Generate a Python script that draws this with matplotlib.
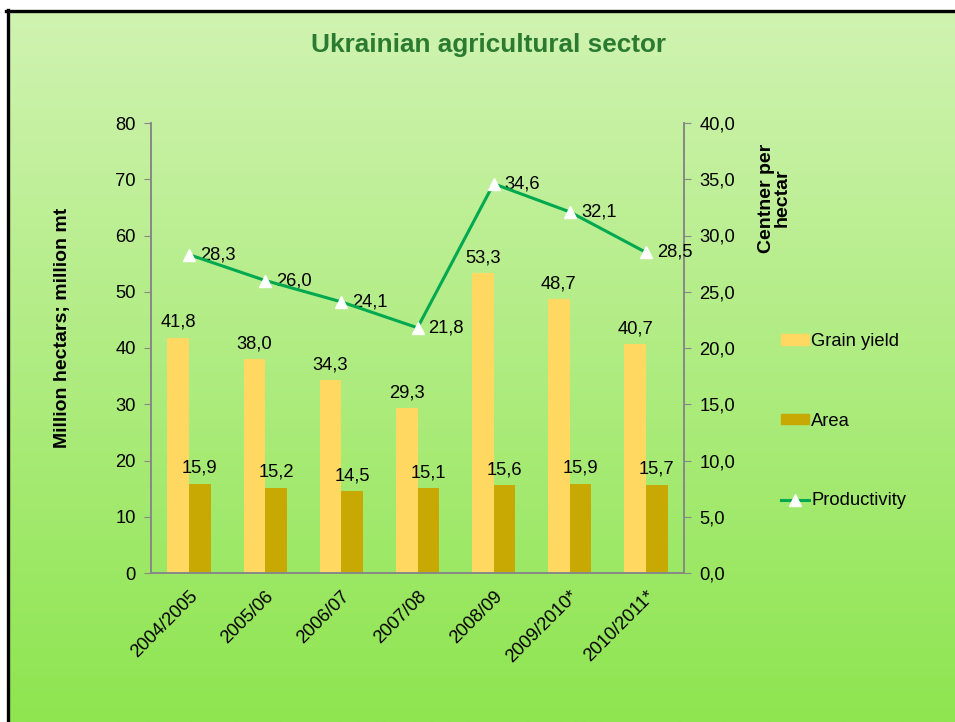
import numpy as np
import matplotlib
matplotlib.use("Agg")
import matplotlib.pyplot as plt
import matplotlib.transforms as mtransforms
from matplotlib.patches import Patch
from matplotlib.lines import Line2D

plt.rcParams['font.family'] = ['Liberation Sans', 'DejaVu Sans']

seasons = ["2004/2005", "2005/06", "2006/07", "2007/08", "2008/09", "2009/2010*", "2010/2011*"]
grain_yield = [41.8, 38.0, 34.3, 29.3, 53.3, 48.7, 40.7]
area = [15.9, 15.2, 14.5, 15.1, 15.6, 15.9, 15.7]
productivity = [28.3, 26.0, 24.1, 21.8, 34.6, 32.1, 28.5]

W, H = 955, 722
fig = plt.figure(figsize=(W / 100, H / 100), dpi=100)
fig.patch.set_facecolor('white')

# gradient background inside the frame
bg = fig.add_axes([9 / W, 0, 1 - 9 / W, 1 - 12 / H], zorder=-5)
top = np.array([0xD0, 0xF3, 0xB1]) / 255
bot = np.array([0x8E, 0xE5, 0x50]) / 255
t = np.linspace(0, 1, 256)[:, None]
grad = (top[None, :] * (1 - t) + bot[None, :] * t)[:, None, :]
bg.imshow(grad, aspect='auto', extent=[0, 1, 0, 1], interpolation='bilinear')
bg.axis('off')

# black frame on top and left
fig.add_artist(Line2D([6 / W, 1], [1 - 11 / H, 1 - 11 / H], color='black', lw=2.4))
fig.add_artist(Line2D([7.5 / W, 7.5 / W], [0, 1 - 10 / H], color='black', lw=2.4))

ax = fig.add_axes([151 / W, 1 - 573 / H, (684 - 151) / W, (573 - 123) / H])
ax.patch.set_alpha(0)
ax2 = ax.twinx()

x = np.arange(len(seasons))
bw = 0.285
grain_c = '#FFD862'
area_c = '#C8A802'
line_c = '#00A84F'
lbl = 13.2

ax.bar(x - bw / 2, grain_yield, bw, color=grain_c, zorder=2)
ax.bar(x + bw / 2, area, bw, color=area_c, zorder=2)
for xi, v in zip(x, grain_yield):
    ax.annotate(f"{v:.1f}".replace('.', ','), (xi - bw / 2, v), xytext=(0, 5),
                textcoords='offset points', ha='center', va='bottom', fontsize=lbl)
for xi, v in zip(x, area):
    ax.annotate(f"{v:.1f}".replace('.', ','), (xi + bw / 2, v), xytext=(0, 5),
                textcoords='offset points', ha='center', va='bottom', fontsize=lbl)

ax2.plot(x, productivity, color=line_c, lw=2.2, marker='^', ms=8.5,
         mfc='white', mec='white', zorder=5)
for xi, v in zip(x, productivity):
    ax2.annotate(f"{v:.1f}".replace('.', ','), (xi, v), xytext=(8, 0),
                 textcoords='offset points', ha='left', va='center', fontsize=lbl)

ax.set_xlim(-0.5, len(seasons) - 0.5)
ax.set_ylim(0, 80)
ax.set_yticks(np.arange(0, 81, 10))
ax2.set_ylim(0, 40)
ax2.set_yticks(np.arange(0, 41, 5))
ax2.set_yticklabels([f"{v:.1f}".replace('.', ',') for v in np.arange(0, 41, 5)])

ax.set_xticks(x)
ax.set_xticklabels(seasons, rotation=45, ha='right', va='center',
                   rotation_mode='anchor', fontsize=lbl)
ax.tick_params(axis='x', length=0, pad=15)
shift = mtransforms.ScaledTranslation(6 / 100, 0, fig.dpi_scale_trans)
for tl in ax.get_xticklabels():
    tl.set_transform(tl.get_transform() + shift)
ax.tick_params(axis='y', labelsize=lbl, length=5, color='#888888', pad=6)
ax2.tick_params(axis='y', labelsize=lbl, length=5, color='#888888', pad=6)

for a in (ax, ax2):
    a.spines['top'].set_visible(False)
    for s in ('left', 'right', 'bottom'):
        a.spines[s].set_color('#888888')
        a.spines[s].set_linewidth(1.2)

fig.text(488 / W, 1 - 45 / H, "Ukrainian agricultural sector",
         ha='center', va='center', fontsize=18.8, fontweight='bold', color='#2B7A31')
fig.text(63 / W, 1 - 328 / H, "Million hectars; million mt", rotation=90,
         ha='center', va='center', fontsize=14, fontweight='bold')
fig.text(774 / W, 1 - 198 / H, "Centner per\nhectar", rotation=90,
         ha='center', va='center', fontsize=14, fontweight='bold', linespacing=0.9)

handles = [Patch(color=grain_c), Patch(color=area_c),
           Line2D([], [], color=line_c, lw=2.2, marker='^', ms=8.5, mfc='white', mec='white')]
fig.legend(handles, ["Grain yield", "Area", "Productivity"],
           loc='upper left', bbox_to_anchor=(781 / W, 1 - 333 / H),
           frameon=False, fontsize=lbl, labelspacing=3.42, handlelength=1.5,
           handleheight=0.5, handletextpad=0.15, borderpad=0, borderaxespad=0)

fig.savefig("out.png", dpi=100)
